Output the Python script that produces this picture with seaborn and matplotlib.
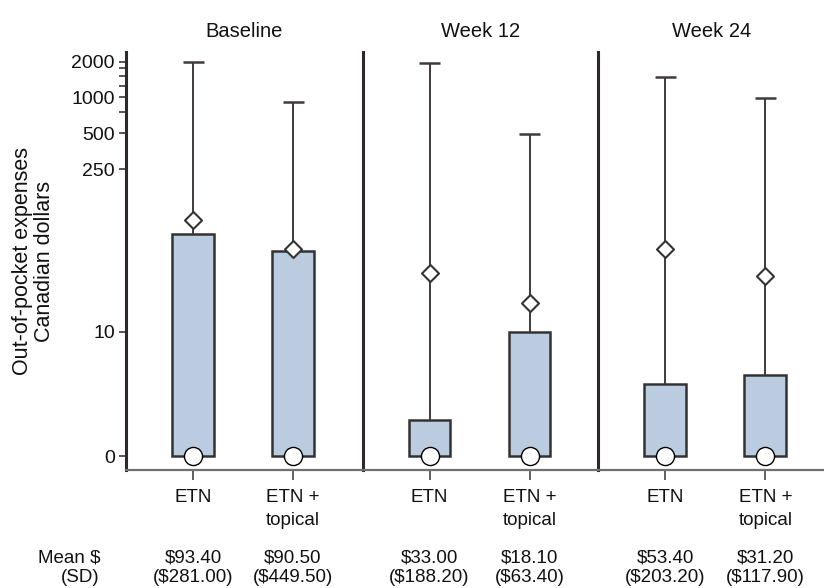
import numpy as np
import pandas as pd
import matplotlib
matplotlib.use('Agg')
import matplotlib.pyplot as plt
import matplotlib.transforms as mtransforms
import seaborn as sns

# data
visits = ['Baseline', 'Week 12', 'Week 24']
groups = ['ETN', 'ETN +\ntopical']
upper_quartile = [71, 51, 1.0, 10, 3.0, 3.8]
maximum = [1990, 920, 1950, 490, 1475, 985]
mean_marker = [93.4, 53, 33.0, 18.1, 53.4, 31.2]
median = [0, 0, 0, 0, 0, 0]
mean_text = ['$93.40', '$90.50', '$33.00', '$18.10', '$53.40', '$31.20']
sd_text = ['($281.00)', '($449.50)', '($188.20)', '($63.40)', '($203.20)', '($117.90)']
y_ticks = [0, 10, 250, 500, 1000, 2000]
y_minor = [750, 1250, 1500, 1750]

df = pd.DataFrame({
    'visit': np.repeat(visits, 2),
    'pos': [0, 1] * 3,
    'q3': upper_quartile,
    'max': maximum,
    'mean': mean_marker,
    'median': median,
})

sns.set_theme(style='ticks')
plt.rcParams['font.family'] = ['Liberation Sans', 'DejaVu Sans']
plt.rcParams['text.color'] = '#111111'
plt.rcParams['xtick.labelcolor'] = '#111111'
plt.rcParams['ytick.labelcolor'] = '#111111'
plt.rcParams['axes.labelcolor'] = '#111111'

box_fill = '#bccce0'
dark = '#333333'


def fwd(v):
    v = np.asarray(v, dtype=float)
    with np.errstate(invalid='ignore', divide='ignore'):
        return np.log10(v + 1)


def inv(v):
    return 10 ** np.asarray(v, dtype=float) - 1


W, H = 824, 588
fig = plt.figure(figsize=(W / 100, H / 100), dpi=100)
lefts = [126, 362.5, 598.3]
widths = [236.5, 235.8, 225.7]
top_px, bot_px = 52, 470

for i, visit in enumerate(visits):
    ax = fig.add_axes([lefts[i] / W, 1 - bot_px / H, widths[i] / W, (bot_px - top_px) / H])
    sub = df[df['visit'] == visit]

    sns.barplot(data=sub, x='pos', y='q3', native_scale=True, width=0.417,
                color=box_fill, saturation=1, edgecolor=dark, linewidth=1.8, ax=ax)
    ax.vlines(sub['pos'], sub['q3'], sub['max'], color='#403a3a', lw=1.4, zorder=2)
    ax.hlines(sub['max'], sub['pos'] - 0.105, sub['pos'] + 0.105, color='#403a3a', lw=1.8, zorder=2)
    sns.scatterplot(x=sub['pos'], y=sub['mean'], marker='D', s=75, color='white',
                    edgecolor=dark, linewidth=1.5, ax=ax, zorder=4)
    sns.scatterplot(x=sub['pos'], y=sub['median'], marker='o', s=170, color='white',
                    edgecolor='black', linewidth=1.0, ax=ax, zorder=5, clip_on=False)

    ax.set_yscale('function', functions=(fwd, inv))
    ax.set_ylim(-0.236, 2403)
    ax.set_xlim(-0.67, -0.67 + widths[i] / 100)
    ax.set_xticks([0, 1])
    ax.set_xticklabels(groups, fontsize=13.5, va='top', linespacing=1.45)
    ax.tick_params(axis='x', length=7, width=1.3, color='#555555', pad=7)
    ax.set_xlabel('')
    ax.set_ylabel('')
    ax.set_title(visit, fontsize=14.5, pad=11)

    for s in ['top', 'right']:
        ax.spines[s].set_visible(False)
    ax.spines['left'].set_color('#302828')
    ax.spines['left'].set_linewidth(2.2)
    ax.spines['bottom'].set_color('#707070')
    ax.spines['bottom'].set_linewidth(1.6)

    if i == 0:
        ax.set_yticks(y_ticks)
        ax.set_yticklabels([str(t) for t in y_ticks], fontsize=14)
        ax.set_yticks(y_minor, minor=True)
        ax.tick_params(axis='y', which='both', length=5, width=1.4, color='#555555', pad=3)
        ax.set_ylabel('Out-of-pocket expenses\nCanadian dollars', fontsize=15.5,
                      labelpad=12, linespacing=1.05)
    else:
        ax.set_yticks([])
        ax.set_yticks([], minor=True)

    trans = mtransforms.blended_transform_factory(ax.transData, fig.transFigure)
    for j, p in enumerate(sub['pos']):
        k = 2 * i + j
        ax.text(p, 1 - 558 / H, mean_text[k], transform=trans, ha='center', va='center', fontsize=13.5)
        ax.text(p, 1 - 578 / H, sd_text[k], transform=trans, ha='center', va='center', fontsize=13.5)

fig.text(100 / W, 1 - 558 / H, 'Mean $', ha='right', va='center', fontsize=13.5)
fig.text(100 / W, 1 - 578 / H, '(SD)', ha='right', va='center', fontsize=13.5)

fig.savefig('out.png', dpi=100)
